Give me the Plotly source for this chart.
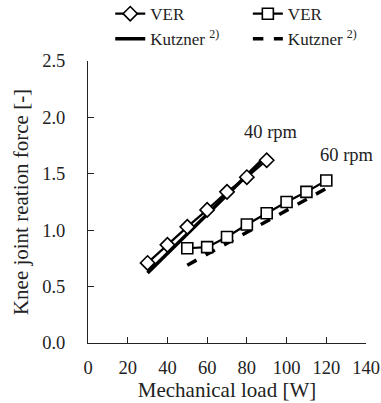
import plotly.graph_objects as go

# Data
load_40 = [30, 40, 50, 60, 70, 80, 90]
ver_40 = [0.71, 0.87, 1.03, 1.18, 1.34, 1.47, 1.62]
kutz_40_x = [30, 90]
kutz_40_y = [0.62, 1.66]

load_60 = [50, 60, 70, 80, 90, 100, 110, 120]
ver_60 = [0.84, 0.85, 0.94, 1.05, 1.15, 1.25, 1.34, 1.44]
kutz_60_x = [50, 120]
kutz_60_y = [0.69, 1.37]

x_ticks = [0, 20, 40, 60, 80, 100, 120, 140]
y_ticks = [0.0, 0.5, 1.0, 1.5, 2.0, 2.5]

FONT = "'Liberation Serif', 'Times New Roman', serif"
INK = "#222"

fig = go.Figure()
# Kutzner lines first (drawn beneath markers)
fig.add_trace(go.Scatter(x=kutz_40_x, y=kutz_40_y, mode="lines", name="Kutzner <sup>2)</sup>",
                         legend="legend", legendrank=2,
                         line=dict(color="black", width=3.5)))
fig.add_trace(go.Scatter(x=kutz_60_x, y=kutz_60_y, mode="lines", name="Kutzner <sup>2)</sup>",
                         legend="legend2", legendrank=2,
                         line=dict(color="black", width=3.5, dash="dash")))
fig.add_trace(go.Scatter(x=load_40, y=ver_40, mode="lines+markers", name="VER",
                         legend="legend", legendrank=1,
                         line=dict(color="black", width=2.2),
                         marker=dict(symbol="diamond", size=11, color="white",
                                     line=dict(color="black", width=1.6))))
fig.add_trace(go.Scatter(x=load_60, y=ver_60, mode="lines+markers", name="VER",
                         legend="legend2", legendrank=1,
                         line=dict(color="black", width=2.2),
                         marker=dict(symbol="square", size=11, color="white",
                                     line=dict(color="black", width=1.6))))

fig.add_annotation(x=92, y=1.87, text="40 rpm", showarrow=False, xanchor="center",
                   font=dict(family=FONT, size=18.5, color=INK))
fig.add_annotation(x=130.6, y=1.67, text="60 rpm", showarrow=False, xanchor="center",
                   font=dict(family=FONT, size=18.5, color=INK))

axis_common = dict(showgrid=False, zeroline=False, showline=True, linecolor=INK,
                   linewidth=1, ticks="inside", ticklen=6, tickcolor=INK,
                   tickfont=dict(family=FONT, size=18.5, color=INK))

fig.update_xaxes(range=[0, 140], tickvals=x_ticks, ticktext=[str(v) for v in x_ticks],
                 ticklabelstandoff=8,
                 title=dict(text="Mechanical load [W]", font=dict(family=FONT, size=21, color=INK),
                            standoff=5),
                 **axis_common)
fig.update_yaxes(range=[0, 2.5], tickvals=y_ticks, ticktext=[f"{v:.1f}" for v in y_ticks],
                 ticklabelstandoff=18,
                 title=dict(text="Knee joint reation force [-]", font=dict(family=FONT, size=21, color=INK),
                            standoff=7),
                 **axis_common)

legend_common = dict(orientation="v", yanchor="top", xanchor="left", traceorder="normal",
                     font=dict(family=FONT, size=17, color=INK), bgcolor="rgba(0,0,0,0)",
                     itemwidth=30, tracegroupgap=0)

fig.update_layout(
    width=381, height=403,
    font=dict(family=FONT, color=INK),
    margin=dict(l=88, r=15, t=61, b=60, autoexpand=False),
    plot_bgcolor="white", paper_bgcolor="white",
    showlegend=True,
    legend=dict(x=0.08, y=1.23, **legend_common),
    legend2=dict(x=0.575, y=1.23, **legend_common),
)

fig.write_html("out.html")
